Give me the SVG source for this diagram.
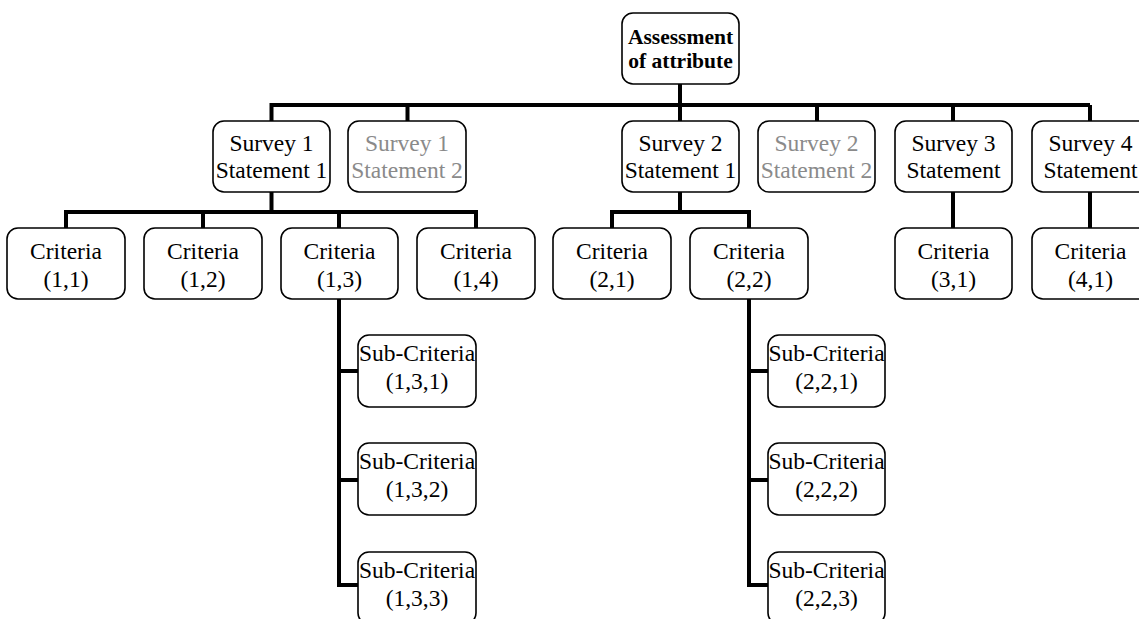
<svg xmlns="http://www.w3.org/2000/svg" width="1139" height="619" viewBox="0 0 1139 619">
<style>
.box{fill:#fff;stroke:#000;stroke-width:1.6}
.t{font-family:"Liberation Serif","Times New Roman",serif;font-size:23.5px;text-anchor:middle;fill:#000}
.g{fill:#8a8a8a}
.b{font-weight:bold;font-size:21.5px}
.c{fill:none;stroke:#000;stroke-width:4;stroke-linecap:butt;stroke-linejoin:miter}
</style>
<rect width="1139" height="619" fill="#fff"/>
<g id="connectors">
<path class="c" d="M680,84V105M271.5,105H1090M271.5,103V121M407.5,105V121M680,105V121M817,105V121M953,105V121M1090,105V121"/>
<path class="c" d="M271.5,192V212M66,212H476M66,210V228M203,210V228M339,210V228M476,210V228"/>
<path class="c" d="M680,192V212M612,212H749M612,210V228M749,210V228"/>
<path class="c" d="M953,192V228M1090,192V228"/>
<path class="c" d="M339,299V585M337,371H358M337,480H358M337,585H358"/>
<path class="c" d="M749,299V585M747,371H768M747,480H768M747,585H768"/>
</g>
<g id="root"><rect class="box" x="622" y="13" width="117" height="71" rx="11"/><text class="t b" x="680.5" y="44">Assessment</text><text class="t b" x="680.5" y="68">of attribute</text></g>
<g id="s1s1"><rect class="box" x="213" y="121" width="117" height="71" rx="11"/><text class="t" x="271.5" y="151">Survey 1</text><text class="t" x="271.5" y="178">Statement 1</text></g>
<g id="s1s2"><rect class="box" x="348" y="121" width="118" height="71" rx="11"/><text class="t g" x="407" y="151">Survey 1</text><text class="t g" x="407" y="178">Statement 2</text></g>
<g id="s2s1"><rect class="box" x="622" y="121" width="117" height="71" rx="11"/><text class="t" x="680.5" y="151">Survey 2</text><text class="t" x="680.5" y="178">Statement 1</text></g>
<g id="s2s2"><rect class="box" x="758" y="121" width="117" height="71" rx="11"/><text class="t g" x="816.5" y="151">Survey 2</text><text class="t g" x="816.5" y="178">Statement 2</text></g>
<g id="s3"><rect class="box" x="895" y="121" width="117" height="71" rx="11"/><text class="t" x="953.5" y="151">Survey 3</text><text class="t" x="953.5" y="178">Statement</text></g>
<g id="s4"><rect class="box" x="1032" y="121" width="117" height="71" rx="11"/><text class="t" x="1090.5" y="151">Survey 4</text><text class="t" x="1090.5" y="178">Statement</text></g>
<g id="c11"><rect class="box" x="7" y="228" width="118" height="71" rx="11"/><text class="t" x="66" y="259">Criteria</text><text class="t" x="66" y="287">(1,1)</text></g>
<g id="c12"><rect class="box" x="144" y="228" width="118" height="71" rx="11"/><text class="t" x="203" y="259">Criteria</text><text class="t" x="203" y="287">(1,2)</text></g>
<g id="c13"><rect class="box" x="281" y="228" width="117" height="71" rx="11"/><text class="t" x="339.5" y="259">Criteria</text><text class="t" x="339.5" y="287">(1,3)</text></g>
<g id="c14"><rect class="box" x="417" y="228" width="118" height="71" rx="11"/><text class="t" x="476" y="259">Criteria</text><text class="t" x="476" y="287">(1,4)</text></g>
<g id="c21"><rect class="box" x="553" y="228" width="118" height="71" rx="11"/><text class="t" x="612" y="259">Criteria</text><text class="t" x="612" y="287">(2,1)</text></g>
<g id="c22"><rect class="box" x="690" y="228" width="118" height="71" rx="11"/><text class="t" x="749" y="259">Criteria</text><text class="t" x="749" y="287">(2,2)</text></g>
<g id="c31"><rect class="box" x="895" y="228" width="117" height="71" rx="11"/><text class="t" x="953.5" y="259">Criteria</text><text class="t" x="953.5" y="287">(3,1)</text></g>
<g id="c41"><rect class="box" x="1032" y="228" width="117" height="71" rx="11"/><text class="t" x="1090.5" y="259">Criteria</text><text class="t" x="1090.5" y="287">(4,1)</text></g>
<g id="sc131"><rect class="box" x="358" y="335" width="118" height="72" rx="11"/><text class="t" x="417" y="361">Sub-Criteria</text><text class="t" x="417" y="389">(1,3,1)</text></g>
<g id="sc132"><rect class="box" x="358" y="443" width="118" height="72" rx="11"/><text class="t" x="417" y="469">Sub-Criteria</text><text class="t" x="417" y="497">(1,3,2)</text></g>
<g id="sc133"><rect class="box" x="358" y="552" width="118" height="72" rx="11"/><text class="t" x="417" y="578">Sub-Criteria</text><text class="t" x="417" y="606">(1,3,3)</text></g>
<g id="sc221"><rect class="box" x="768" y="335" width="117" height="72" rx="11"/><text class="t" x="826.5" y="361">Sub-Criteria</text><text class="t" x="826.5" y="389">(2,2,1)</text></g>
<g id="sc222"><rect class="box" x="768" y="443" width="117" height="72" rx="11"/><text class="t" x="826.5" y="469">Sub-Criteria</text><text class="t" x="826.5" y="497">(2,2,2)</text></g>
<g id="sc223"><rect class="box" x="768" y="552" width="117" height="72" rx="11"/><text class="t" x="826.5" y="578">Sub-Criteria</text><text class="t" x="826.5" y="606">(2,2,3)</text></g>
</svg>
